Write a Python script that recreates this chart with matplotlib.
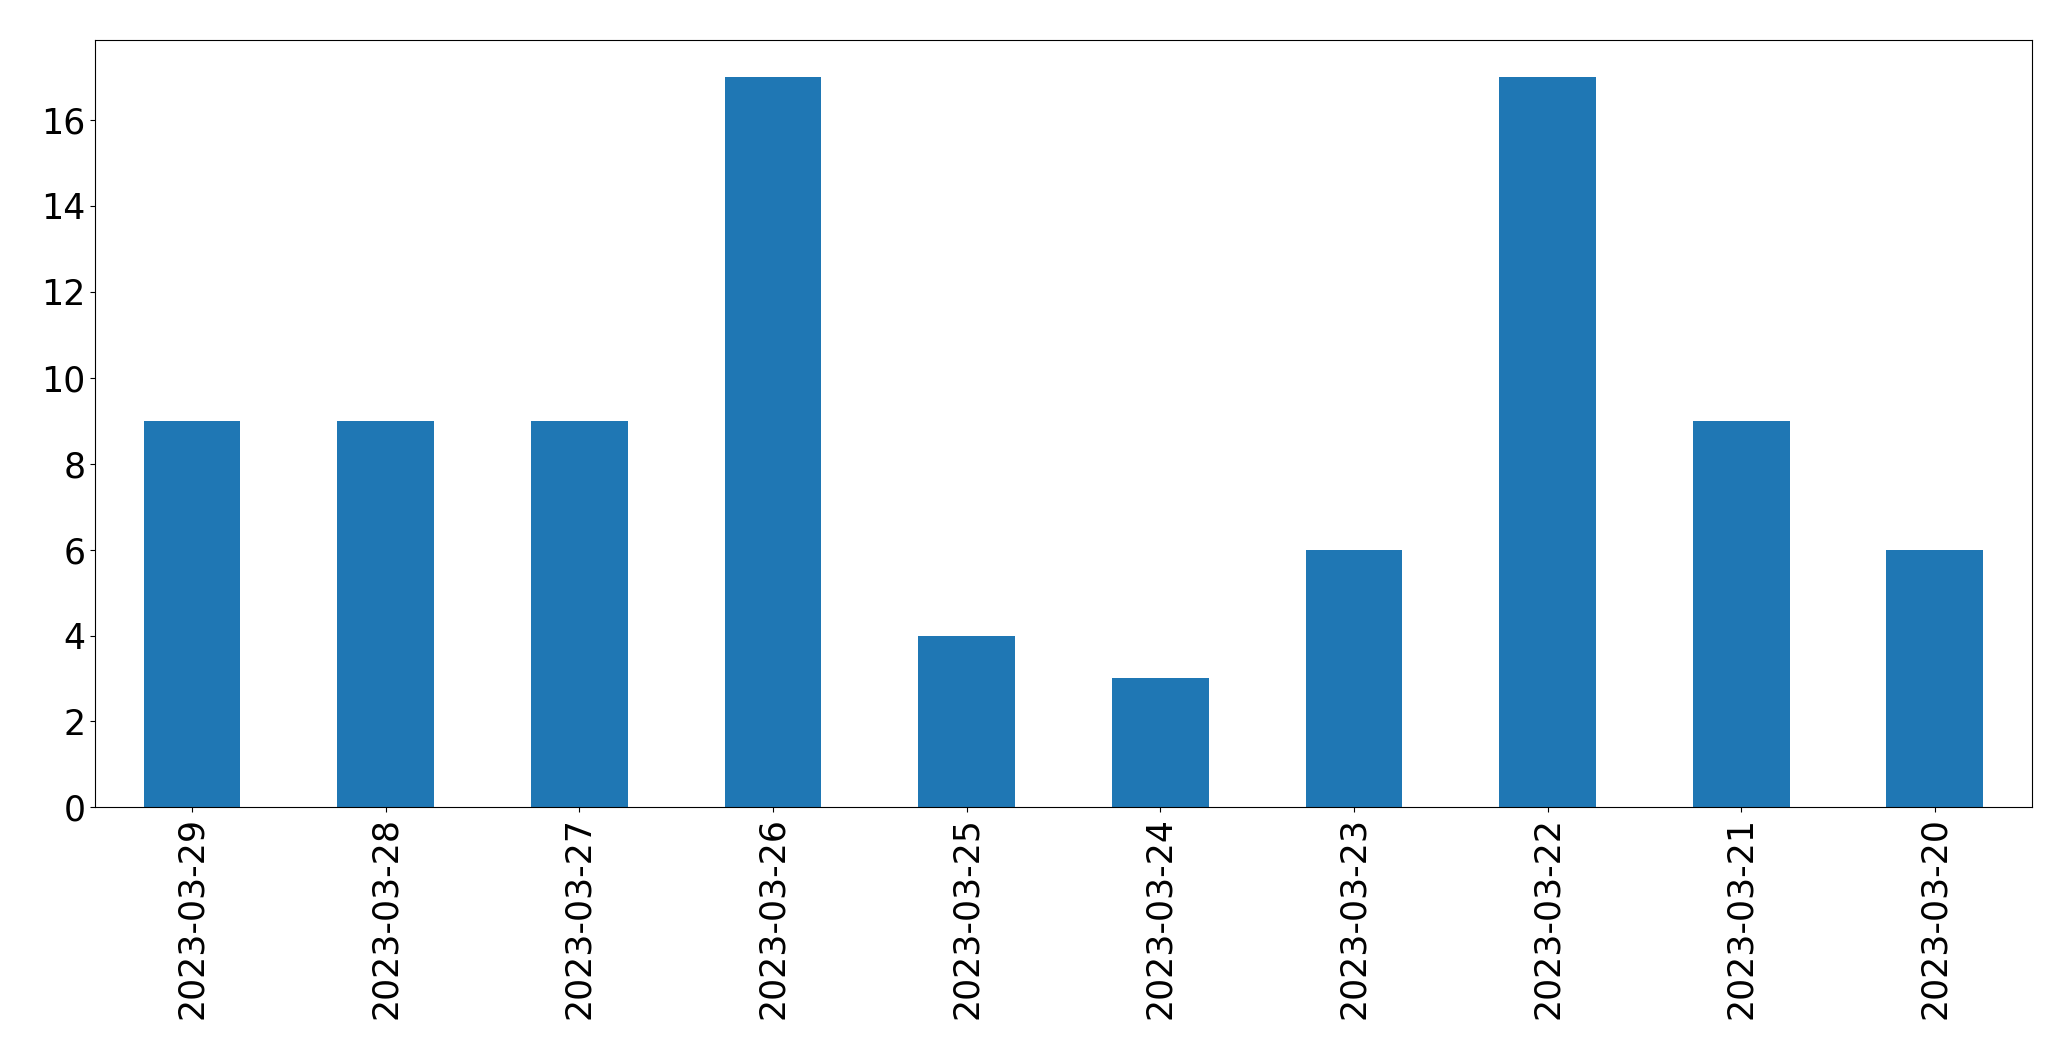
import matplotlib
matplotlib.use("Agg")
import matplotlib.pyplot as plt
import numpy as np

dates = ['2023-03-29', '2023-03-28', '2023-03-27', '2023-03-26', '2023-03-25',
         '2023-03-24', '2023-03-23', '2023-03-22', '2023-03-21', '2023-03-20']
counts = [9, 9, 9, 17, 4, 3, 6, 17, 9, 6]

fig, ax = plt.subplots(figsize=(20.71, 10.61), dpi=100)
x = np.arange(len(dates))
ax.bar(x, counts, width=0.5, color='#1f77b4')
ax.set_xticks(x)
ax.set_xticklabels(dates, rotation=90)
ax.set_xlim(-0.5, len(dates) - 0.5)
ax.tick_params(axis='both', labelsize=25)

plt.subplots_adjust(left=0.046, right=0.981, top=0.962, bottom=0.239)
plt.savefig('out.png')
